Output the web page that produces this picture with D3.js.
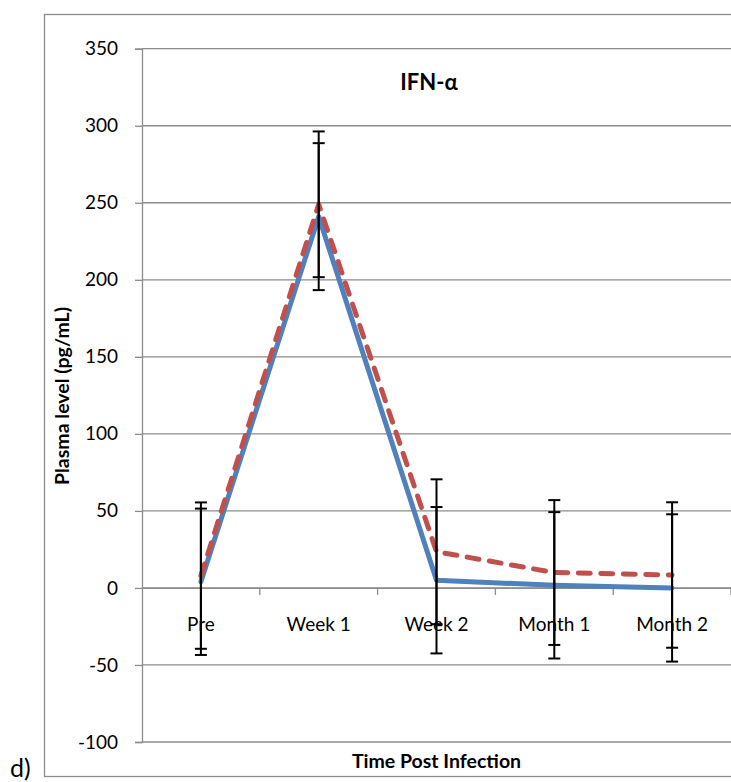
<!DOCTYPE html>
<html>
<head>
<meta charset="utf-8">
<script src="https://cdn.jsdelivr.net/npm/d3@7"></script>
<style>
  html, body { margin: 0; padding: 0; background: #fff; }
  svg { display: block; }
  text { font-family: Lato, "Open Sans", sans-serif; fill: #000; }
</style>
</head>
<body>
<svg id="chart" width="731" height="782"></svg>
<script>
// ---- data ----
const categories = ["Pre", "Week 1", "Week 2", "Month 1", "Month 2"];
const solidValues = [4, 241, 5, 1.7, 0];        // blue solid series
const dashedValues = [8, 249, 23.5, 10, 8.4];   // red dashed series
const solidErrors = [47.5, 47.7, 47.5, 47.5, 47.8];
const dashedErrors = [47.5, 47.3, 47, 47, 47.2];
const yTickValues = [-100, -50, 0, 50, 100, 150, 200, 250, 300, 350];
const chartTitle = "IFN-\u03b1";
const yTitle = "Plasma level (pg/mL)";
const xTitle = "Time Post Infection";
const panelLabel = "d)";

// ---- layout ----
const svg = d3.select("#chart");
const plot = { left: 142, right: 731, top: 48.7, bottom: 742 };
const gridColor = "#8c8c8c";

const x = d3.scaleBand().domain(categories).range([plot.left, plot.right]).padding(0);
const y = d3.scaleLinear().domain([-100, 350]).range([plot.bottom, plot.top]);
const cx = c => x(c) + x.bandwidth() / 2;

// outer chart frame
svg.append("rect")
  .attr("x", 44.5).attr("y", 14.5)
  .attr("width", 800).attr("height", 762)
  .attr("fill", "none").attr("stroke", gridColor).attr("stroke-width", 1.3);

// horizontal gridlines
svg.append("g")
  .selectAll("line")
  .data(yTickValues)
  .join("line")
  .attr("x1", plot.left).attr("x2", plot.right)
  .attr("y1", d => y(d)).attr("y2", d => y(d))
  .attr("stroke", gridColor).attr("stroke-width", 1.3);

// y axis
const yAxis = svg.append("g")
  .attr("transform", `translate(${plot.left},0)`)
  .call(d3.axisLeft(y).tickValues(yTickValues).tickSize(7).tickPadding(17).tickFormat(d => String(d)));
yAxis.select(".domain").attr("stroke", gridColor).attr("stroke-width", 1.3);
yAxis.selectAll(".tick line").attr("stroke", gridColor).attr("stroke-width", 1.3);
yAxis.selectAll(".tick text").attr("font-size", 19).attr("font-family", "Lato").attr("fill", "#000");

// x axis at y = 0
const xAxis = svg.append("g")
  .attr("transform", `translate(0,${y(0)})`)
  .call(d3.axisBottom(x).tickSize(0).tickPadding(30).tickSizeOuter(0));
xAxis.select(".domain").attr("stroke", gridColor).attr("stroke-width", 1.3);
xAxis.selectAll(".tick text").attr("font-size", 19).attr("font-family", "Lato").attr("fill", "#000");

// boundary tick marks between categories
svg.append("g")
  .selectAll("line")
  .data(categories)
  .join("line")
  .attr("x1", d => x(d) + x.bandwidth()).attr("x2", d => x(d) + x.bandwidth())
  .attr("y1", y(0)).attr("y2", y(0) + 7)
  .attr("stroke", gridColor).attr("stroke-width", 1.3);

// lines
const line = d3.line().x((d, i) => cx(categories[i])).y(d => y(d));

svg.append("path")
  .datum(solidValues)
  .attr("d", line)
  .attr("fill", "none")
  .attr("stroke", "#4F81BD")
  .attr("stroke-width", 5)
  .attr("stroke-linejoin", "round")
  .attr("stroke-linecap", "round");

svg.append("path")
  .datum(dashedValues)
  .attr("d", line)
  .attr("fill", "none")
  .attr("stroke", "#C0504D")
  .attr("stroke-width", 5)
  .attr("stroke-dasharray", "12,10.5")
  .attr("stroke-linejoin", "round")
  .attr("stroke-linecap", "round");

// error bars
function drawErrors(values, errors) {
  const g = svg.append("g").attr("stroke", "#000").attr("stroke-width", 2);
  const data = values.map((v, i) => ({ c: categories[i], v, e: errors[i] }));
  g.selectAll("line.bar").data(data).join("line").attr("class", "bar")
    .attr("x1", d => cx(d.c)).attr("x2", d => cx(d.c))
    .attr("y1", d => y(d.v + d.e)).attr("y2", d => y(d.v - d.e));
  g.selectAll("line.capTop").data(data).join("line").attr("class", "capTop")
    .attr("x1", d => cx(d.c) - 6).attr("x2", d => cx(d.c) + 6)
    .attr("y1", d => y(d.v + d.e)).attr("y2", d => y(d.v + d.e));
  g.selectAll("line.capBot").data(data).join("line").attr("class", "capBot")
    .attr("x1", d => cx(d.c) - 6).attr("x2", d => cx(d.c) + 6)
    .attr("y1", d => y(d.v - d.e)).attr("y2", d => y(d.v - d.e));
}
drawErrors(solidValues, solidErrors);
drawErrors(dashedValues, dashedErrors);

// titles
svg.append("text")
  .attr("x", 429).attr("y", 90)
  .attr("text-anchor", "middle")
  .attr("font-size", 22).attr("font-weight", "bold")
  .text(chartTitle);

svg.append("text")
  .attr("transform", "translate(69,396) rotate(-90)")
  .attr("text-anchor", "middle")
  .attr("font-size", 19.5).attr("font-weight", "bold")
  .text(yTitle);

svg.append("text")
  .attr("x", (plot.left + plot.right) / 2).attr("y", 768)
  .attr("text-anchor", "middle")
  .attr("font-size", 19.5).attr("font-weight", "bold")
  .text(xTitle);

svg.append("text")
  .attr("x", 10).attr("y", 777)
  .attr("font-size", 25)
  .text(panelLabel);
</script>
</body>
</html>
